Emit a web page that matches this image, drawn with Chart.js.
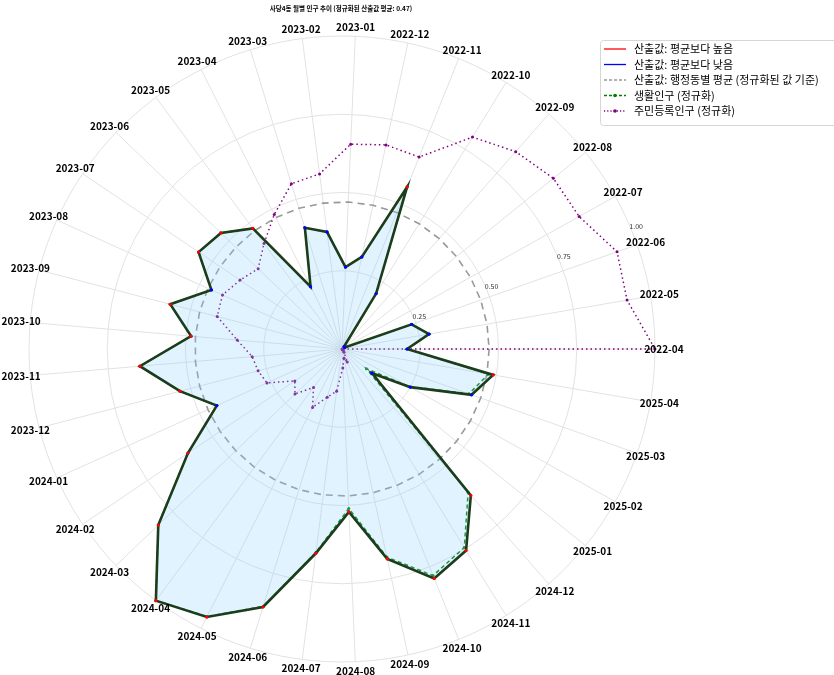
<!DOCTYPE html>
<html>
<head>
<meta charset="utf-8">
<script src="https://cdn.jsdelivr.net/npm/chart.js@4.4.0/dist/chart.umd.min.js"></script>
<style>
  html, body { margin: 0; padding: 0; background: #fff; }
</style>
</head>
<body>
<canvas id="chart" width="834" height="675"></canvas>
<script>
const months = [
  "2022-04", "2022-05", "2022-06", "2022-07", "2022-08", "2022-09", "2022-10", "2022-11", "2022-12",
  "2023-01", "2023-02", "2023-03", "2023-04", "2023-05", "2023-06", "2023-07", "2023-08", "2023-09",
  "2023-10", "2023-11", "2023-12", "2024-01", "2024-02", "2024-03", "2024-04", "2024-05", "2024-06",
  "2024-07", "2024-08", "2024-09", "2024-10", "2024-11", "2024-12", "2025-01", "2025-02", "2025-03",
  "2025-04",
];

// 산출값 (정규화)
const computed = [
  0.208, 0.282, 0.236, 0.01, 0.01, 0.01, 0.208, 0.558, 0.301,
  0.262, 0.377, 0.405, 0.223, 0.479, 0.536, 0.553, 0.458, 0.567,
  0.484, 0.648, 0.535, 0.439, 0.594, 0.813, 1.0, 0.959, 0.862,
  0.658, 0.521, 0.686, 0.79, 0.756, 0.623, 0.123, 0.25, 0.439,
  0.49,
];

// 생활인구 (정규화)
const livingPop = [
  0.208, 0.282, 0.236, 0.01, 0.01, 0.01, 0.208, 0.558, 0.301,
  0.262, 0.377, 0.405, 0.223, 0.479, 0.536, 0.553, 0.458, 0.567,
  0.484, 0.648, 0.535, 0.439, 0.594, 0.813, 1.0, 0.957, 0.86,
  0.655, 0.51, 0.68, 0.78, 0.745, 0.61, 0.1, 0.245, 0.43,
  0.475,
];

// 주민등록인구 (정규화)
const residentPop = [
  1.0, 0.924, 0.932, 0.868, 0.868, 0.84, 0.795, 0.661, 0.667,
  0.655, 0.564, 0.552, 0.481, 0.419, 0.371, 0.393, 0.419, 0.412,
  0.336, 0.288, 0.277, 0.263, 0.182, 0.208, 0.153, 0.209, 0.161,
  0.136, 0.061, 0.03, 0.045, 0.012, 0.005, 0.004, 0.003, 0.002,
  0.0,
];

const meanValue = 0.47;
const rTicks = [0.25, 0.5, 0.75, 1.0];
const titleText = "사당4동 월별 인구 추이 (정규화된 산출값 평균: 0.47)";
const legendItems = [
  "산출값: 평균보다 높음",
  "산출값: 평균보다 낮음",
  "산출값: 행정동별 평균 (정규화된 값 기준)",
  "생활인구 (정규화)",
  "주민등록인구 (정규화)",
];

// matplotlib goes counterclockwise from east, Chart.js goes clockwise
const order = months.map((_, i) => (months.length - i) % months.length);
const reorder = arr => order.map(i => arr[i]);

const above = computed.map(v => (v > meanValue ? v : null));
const below = computed.map(v => (v <= meanValue ? v : null));

const KFONT = '"Noto Sans CJK KR", "Noto Sans", sans-serif';

const decorations = {
  id: "decorations",
  afterDraw(chart) {
    const ctx = chart.ctx;
    const scale = chart.scales.r;
    ctx.save();

    // month labels
    ctx.fillStyle = "#000";
    ctx.font = "bold 10px " + KFONT;
    ctx.textAlign = "center";
    ctx.textBaseline = "middle";
    chart.data.labels.forEach((lab, j) => {
      const p = scale.getPointPosition(j, scale.drawingArea + 9);
      ctx.fillText(lab, p.x, p.y);
    });

    // radial tick labels at 22.5 degrees
    ctx.font = "7px " + KFONT;
    ctx.fillStyle = "#333";
    const a = 22.5 * Math.PI / 180;
    rTicks.forEach(v => {
      const d = scale.getDistanceFromCenterForValue(v);
      ctx.fillText(v.toFixed(2), scale.xCenter + Math.cos(a) * d + 5, scale.yCenter - Math.sin(a) * d - 3);
    });

    // title
    ctx.font = "bold 6.5px " + KFONT;
    ctx.fillStyle = "#000";
    ctx.fillText(titleText, 341, 9);

    // legend
    const bx = 600.5, by = 40.5;
    ctx.fillStyle = "rgba(255,255,255,0.85)";
    ctx.strokeStyle = "#d6d6d6";
    ctx.lineWidth = 1;
    ctx.beginPath();
    ctx.roundRect(bx, by, 245, 85, 3);
    ctx.fill();
    ctx.stroke();

    const styles = [
      { color: "red", dash: [], dot: false },
      { color: "blue", dash: [], dot: false },
      { color: "#999999", dash: [3, 2], dot: false },
      { color: "green", dash: [3, 2], dot: true },
      { color: "purple", dash: [1.2, 2], dot: true },
    ];
    const rows = [49, 64.5, 80, 95.5, 111];
    ctx.textAlign = "left";
    ctx.font = "11px " + KFONT;
    legendItems.forEach((txt, i) => {
      const s = styles[i];
      const y = rows[i];
      ctx.strokeStyle = s.color;
      ctx.lineWidth = 1.3;
      ctx.setLineDash(s.dash);
      ctx.beginPath();
      ctx.moveTo(604, y);
      ctx.lineTo(626, y);
      ctx.stroke();
      ctx.setLineDash([]);
      if (s.dot) {
        ctx.fillStyle = s.color;
        ctx.beginPath();
        ctx.arc(615, y, 1.8, 0, Math.PI * 2);
        ctx.fill();
      }
      ctx.fillStyle = "#000";
      ctx.fillText(txt, 634, y);
    });

    ctx.restore();
  },
};

new Chart(document.getElementById("chart"), {
  type: "radar",
  data: {
    labels: reorder(months),
    datasets: [
      {
        label: "산출값: 평균보다 높음",
        data: reorder(above),
        showLine: false,
        fill: false,
        pointRadius: 1.6,
        pointBorderWidth: 0,
        pointBackgroundColor: "red",
        borderColor: "red",
        order: 0,
      },
      {
        label: "산출값: 평균보다 낮음",
        data: reorder(below),
        showLine: false,
        fill: false,
        pointRadius: 1.6,
        pointBorderWidth: 0,
        pointBackgroundColor: "blue",
        borderColor: "blue",
        order: 0,
      },
      {
        label: "산출값",
        data: reorder(computed),
        borderColor: "#1b3d1b",
        borderWidth: 2.6,
        backgroundColor: "rgba(135,206,250,0.25)",
        fill: "origin",
        pointRadius: 0,
        order: 1,
      },
      {
        label: "생활인구 (정규화)",
        data: reorder(livingPop),
        borderColor: "green",
        borderWidth: 1.5,
        borderDash: [4, 3],
        fill: false,
        pointRadius: 1.5,
        pointBorderWidth: 0,
        pointBackgroundColor: "green",
        order: 2,
      },
      {
        label: "주민등록인구 (정규화)",
        data: reorder(residentPop),
        borderColor: "purple",
        borderWidth: 1.5,
        borderDash: [1.5, 3],
        fill: false,
        pointRadius: 1.5,
        pointBorderWidth: 0,
        pointBackgroundColor: "purple",
        order: 3,
      },
      {
        label: "산출값: 행정동별 평균 (정규화된 값 기준)",
        data: months.map(() => meanValue),
        borderColor: "#999999",
        borderWidth: 1.6,
        borderDash: [7, 5],
        fill: false,
        pointRadius: 0,
        order: 4,
      },
    ],
  },
  options: {
    responsive: false,
    animation: false,
    layout: {
      padding: { left: 29, right: 179, top: 36, bottom: 13 },
    },
    scales: {
      r: {
        startAngle: 90,
        min: 0,
        max: 1,
        ticks: { display: false, stepSize: 0.25 },
        grid: { circular: true, color: "#e2e2e2", lineWidth: 1 },
        angleLines: { color: "#e2e2e2", lineWidth: 1 },
        pointLabels: { display: false },
      },
    },
    plugins: {
      legend: { display: false },
      tooltip: { enabled: false },
    },
  },
  plugins: [decorations],
});
</script>
</body>
</html>
